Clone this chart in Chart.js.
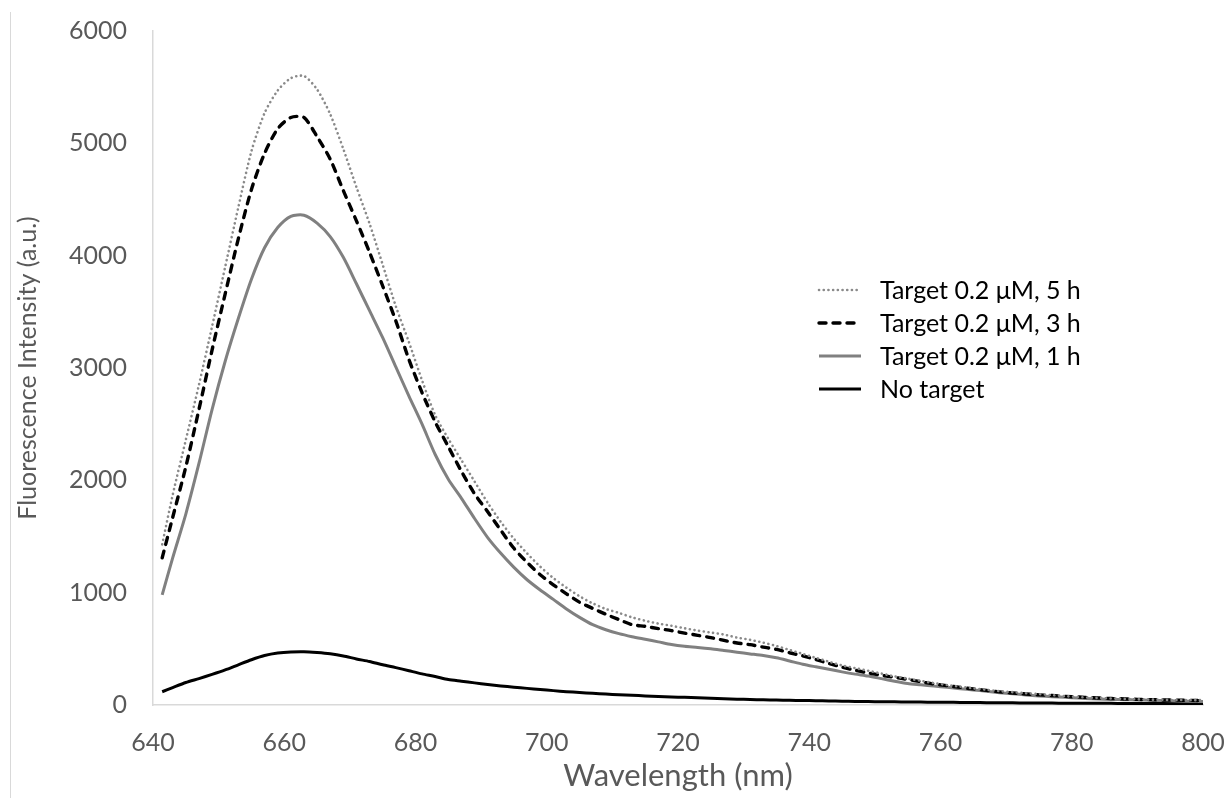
<!DOCTYPE html>
<html>
<head>
<meta charset="utf-8">
<script src="https://cdn.jsdelivr.net/npm/chart.js@4.4.1/dist/chart.umd.min.js"></script>
<style>
  html, body { margin: 0; padding: 0; background: #ffffff; }
  #wrap { position: relative; width: 1228px; height: 798px; }
  #edge { position: absolute; left: 10px; top: 12px; width: 1px; height: 786px; background: #d9d9d9; }
  canvas { position: absolute; left: 0; top: 0; }
</style>
</head>
<body>
<div id="wrap">
  <div id="edge"></div>
  <canvas id="c" width="1228" height="798"></canvas>
</div>
<script>
// ---- data ----
const wavelengths = [641.4,643,645,647,649,651,653,655,657,659,661,663,665,667,669,671,673,675,677,679,681,683,685,687,689,691,693,695,697,699,701,703,705,707,709,711,713,715,717,719,721,723,725,727,729,731,733,735,737,739,741,743,745,747,749,751,753,755,757,759,761,763,765,767,769,771,773,775,777,779,781,783,785,787,789,791,793,795,797,799,800];

const seriesLabels = ['Target 0.2 \u03BCM, 5 h', 'Target 0.2 \u03BCM, 3 h', 'Target 0.2 \u03BCM, 1 h', 'No target'];

const target5h = [1430,1870,2360,2850,3370,3900,4430,4930,5270,5470,5580,5600,5480,5260,4950,4610,4285,3920,3550,3230,2890,2580,2370,2180,1990,1800,1630,1480,1350,1232,1130,1045,968,905,855,820,780,750,725,705,683,662,645,627,600,580,555,525,490,455,420,385,352,328,305,280,255,235,215,195,178,163,148,136,124,114,105,97,88,79,71,65,60,56,52,49,47,45,44,43,43];

const target3h = [1310,1670,2120,2630,3160,3660,4150,4590,4910,5130,5230,5230,5060,4860,4580,4310,4030,3730,3420,3075,2780,2520,2300,2080,1880,1720,1555,1395,1270,1160,1070,990,915,860,808,760,715,700,680,662,640,620,600,575,552,537,515,495,465,438,405,370,337,310,285,265,246,228,207,187,172,157,143,130,117,107,98,90,84,77,71,65,60,56,52,49,46,44,42,40,39];

const target1h = [980,1310,1700,2150,2630,3060,3440,3790,4070,4250,4350,4360,4290,4170,3985,3750,3510,3270,3010,2750,2500,2230,2010,1840,1660,1490,1350,1225,1115,1024,940,855,780,715,670,635,608,585,562,538,522,512,500,485,470,455,440,420,392,363,340,318,295,275,258,235,212,192,180,168,157,145,134,122,110,100,90,81,74,68,62,56,51,48,46,44,41,38,35,32,31];

const noTarget = [118,155,200,235,272,312,358,403,440,462,472,474,467,456,437,410,387,358,333,305,277,254,227,212,197,183,170,158,148,138,128,119,111,104,97,91,86,81,76,72,68,64,60,56,52,49,46,44,42,40,38,36,34,32,31,29,28,27,26,25,24,23,22,21,20,19,18,18,17,16,16,15,15,14,14,13,13,13,12,12,12];

const xTickMin = 640, xTickMax = 800, xTickStep = 20;
const yTickMin = 0, yTickMax = 6000, yTickStep = 1000;
const xTitle = 'Wavelength (nm)';
const yTitle = 'Fluorescence Intensity (a.u.)';

// ---- build ----
function pts(vals) { return wavelengths.map((w, i) => ({ x: w, y: vals[i] })); }

const styles = [
  { borderColor: '#8a8a8a', borderWidth: 2.6, borderDash: [0.1, 4.6], borderCapStyle: 'round' },
  { borderColor: '#000000', borderWidth: 3.4, borderDash: [7, 7], borderCapStyle: 'round' },
  { borderColor: '#808080', borderWidth: 3, borderDash: [], borderCapStyle: 'butt' },
  { borderColor: '#000000', borderWidth: 3, borderDash: [], borderCapStyle: 'butt' }
];
const allVals = [target5h, target3h, target1h, noTarget];

const datasets = allVals.map((v, i) => Object.assign({
  label: seriesLabels[i],
  data: pts(v),
  pointRadius: 0,
  fill: false,
  tension: 0.25,
  borderJoinStyle: 'round'
}, styles[i]));

const FONT = 'Lato, "Noto Sans", sans-serif';

const legendPlugin = {
  id: 'customLegend',
  afterDatasetsDraw(chart) {
    const ctx = chart.ctx;
    const ca = chart.chartArea;
    const x0 = ca.left + 666, x1 = ca.left + 708, tx = ca.left + 727;
    const y0 = ca.top + 259, dy = 33;
    chart.data.datasets.forEach((ds, i) => {
      const y = y0 + i * dy;
      ctx.save();
      ctx.strokeStyle = ds.borderColor;
      ctx.lineWidth = ds.borderWidth;
      ctx.setLineDash(ds.borderDash || []);
      ctx.lineCap = ds.borderCapStyle || 'butt';
      ctx.beginPath();
      ctx.moveTo(x0, y);
      ctx.lineTo(x1, y);
      ctx.stroke();
      ctx.setLineDash([]);
      ctx.fillStyle = '#000000';
      ctx.font = '25px ' + FONT;
      ctx.textBaseline = 'middle';
      ctx.textAlign = 'left';
      ctx.fillText(ds.label, tx, y + 1);
      ctx.restore();
    });
  }
};

new Chart(document.getElementById('c'), {
  type: 'line',
  data: { datasets },
  plugins: [legendPlugin],
  options: {
    responsive: false,
    animation: false,
    events: [],
    layout: { padding: { left: 0, right: 25, top: 31, bottom: 0 } },
    plugins: { legend: { display: false }, tooltip: { enabled: false } },
    scales: {
      x: {
        type: 'linear',
        min: xTickMin, max: xTickMax,
        grid: { display: false, drawTicks: false },
        border: { display: true, color: '#d9d9d9', width: 1.5 },
        ticks: { stepSize: xTickStep, color: '#595959', font: { family: FONT, size: 25 }, padding: 23, maxRotation: 0,
                 callback: (v) => String(v) },
        title: { display: true, text: xTitle, color: '#595959', font: { family: FONT, size: 31 }, padding: { top: 0, bottom: 3 } },
        afterFit(scale) { scale.height = 93; scale.paddingLeft = 0; scale.paddingRight = 0; }
      },
      y: {
        type: 'linear',
        min: yTickMin, max: yTickMax,
        grid: { display: false, drawTicks: false },
        border: { display: true, color: '#d9d9d9', width: 1.5 },
        ticks: { stepSize: yTickStep, color: '#595959', font: { family: FONT, size: 25 }, padding: 26,
                 callback: (v) => String(v) },
        title: { display: true, text: yTitle, color: '#595959', font: { family: FONT, size: 25 }, padding: { top: 13, bottom: 0 } },
        afterFit(scale) { scale.width = 153; scale.paddingTop = 0; scale.paddingBottom = 0; }
      }
    }
  }
});
</script>
</body>
</html>
